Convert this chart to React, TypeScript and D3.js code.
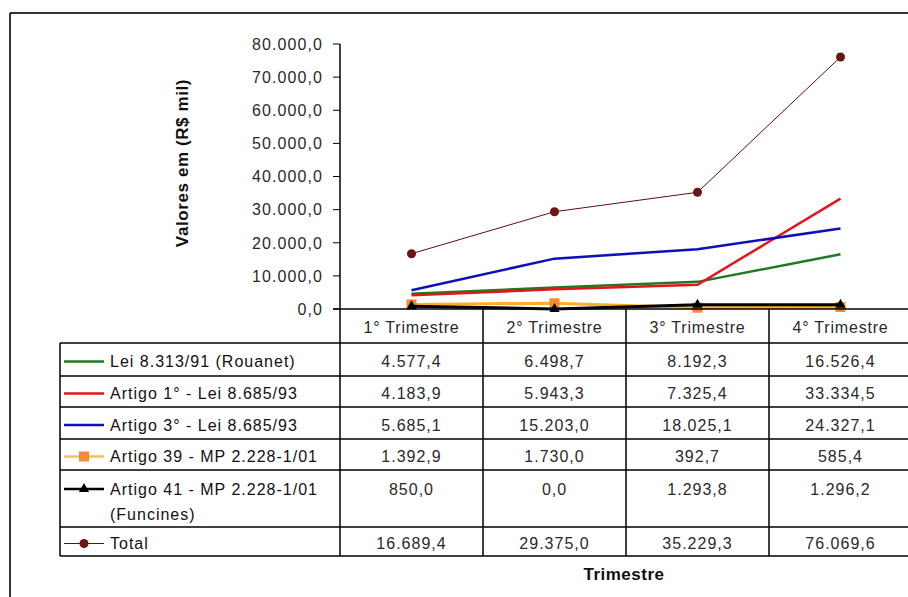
import * as d3 from "d3";

const categories = ["1° Trimestre", "2° Trimestre", "3° Trimestre", "4° Trimestre"];

const rouanet = [4577.4, 6498.7, 8192.3, 16526.4];
const artigo1 = [4183.9, 5943.3, 7325.4, 33334.5];
const artigo3 = [5685.1, 15203.0, 18025.1, 24327.1];
const artigo39 = [1392.9, 1730.0, 392.7, 585.4];
const artigo41 = [850.0, 0.0, 1293.8, 1296.2];
const total = [16689.4, 29375.0, 35229.3, 76069.6];

const yTicks = [0, 10000, 20000, 30000, 40000, 50000, 60000, 70000, 80000];

type Series = {
  label: string[];
  values: number[];
  color: string;
  width: number;
  marker: "none" | "square" | "triangle" | "circle";
  markerColor: string;
  legendColor: string;
};

const series: Series[] = [
  { label: ["Lei 8.313/91 (Rouanet)"], values: rouanet, color: "#1f7a22", width: 2.5, marker: "none", markerColor: "", legendColor: "#1f7a22" },
  { label: ["Artigo 1° - Lei 8.685/93"], values: artigo1, color: "#e5141c", width: 2.5, marker: "none", markerColor: "", legendColor: "#e5141c" },
  { label: ["Artigo 3° - Lei 8.685/93"], values: artigo3, color: "#1010b8", width: 2.5, marker: "none", markerColor: "", legendColor: "#1010b8" },
  { label: ["Artigo 39 - MP 2.228-1/01"], values: artigo39, color: "#ffad2a", width: 3, marker: "square", markerColor: "#f58a30", legendColor: "#f7c25a" },
  { label: ["Artigo 41 - MP 2.228-1/01", "(Funcines)"], values: artigo41, color: "#000000", width: 3, marker: "triangle", markerColor: "#000000", legendColor: "#000000" },
  { label: ["Total"], values: total, color: "#5a1010", width: 1, marker: "circle", markerColor: "#6a1414", legendColor: "#5a1010" },
];

// row boundaries of the data table (y)
const rowEdges = [343, 376, 407, 439, 470, 527, 556];

const fmt = (v: number) => {
  const s = d3.format(",.1f")(v);
  return s.replace(/,/g, "#").replace(".", ",").replace(/#/g, ".");
};

const font = "'Liberation Sans', Arial, sans-serif";
const textColor = "#2a2a2a";

function Marker({ type, x, y, color }: { type: string; x: number; y: number; color: string }) {
  if (type === "square") return <rect x={x - 5} y={y - 5} width={10} height={10} fill={color} />;
  if (type === "triangle") return <path d={d3.symbol(d3.symbolTriangle, 45)() || ""} transform={`translate(${x},${y})`} fill={color} />;
  if (type === "circle") return <circle cx={x} cy={y} r={4.5} fill={color} />;
  return null;
}

export default function App() {
  const W = 908;
  const H = 597;
  const axisX = 340;
  const x = d3.scaleBand<string>().domain(categories).range([axisX, axisX + 143 * 4]);
  const y = d3.scaleLinear().domain([0, 80000]).range([309, 44]);
  const cx = (c: string) => (x(c) || 0) + x.bandwidth() / 2;
  const line = d3
    .line<number>()
    .x((_, i) => cx(categories[i]))
    .y((d) => y(d));
  const tableLeft = 60;

  return (
    <svg width={W} height={H} style={{ position: "absolute", left: 0, top: 0, background: "#fff" }} fontFamily={font}>
      <rect width={W} height={H} fill="#fff" />
      {/* outer frame */}
      <line x1={10} y1={13} x2={W} y2={13} stroke="#333" strokeWidth={2} />
      <line x1={10} y1={13} x2={10} y2={H} stroke="#333" strokeWidth={2} />

      {/* y axis title */}
      <text
        transform="translate(188,163) rotate(-90)"
        textAnchor="middle"
        fontWeight="bold"
        fontSize={17}
        letterSpacing={0.6}
        fill="#111"
      >
        Valores em (R$ mil)
      </text>

      {/* y ticks */}
      {yTicks.map((t) => (
        <g key={t}>
          <line x1={axisX - 7} x2={axisX} y1={y(t)} y2={y(t)} stroke="#000" />
          <text x={323} y={y(t)} dy="0.36em" textAnchor="end" fontSize={16} letterSpacing={1.1} fill={textColor}>
            {fmt(t)}
          </text>
        </g>
      ))}

      {/* series lines */}
      {series.map((s, i) => (
        <g key={i}>
          <path d={line(s.values) || ""} fill="none" stroke={s.color} strokeWidth={s.width} />
          {s.marker !== "none" &&
            s.values.map((v, j) => <Marker key={j} type={s.marker} x={cx(categories[j])} y={y(v)} color={s.markerColor} />)}
        </g>
      ))}

      {/* axes and table grid */}
      <line x1={axisX - 7} x2={W} y1={y(0)} y2={y(0)} stroke="#000" strokeWidth={1.5} />
      <line x1={axisX} x2={axisX} y1={y(80000)} y2={rowEdges[rowEdges.length - 1]} stroke="#000" strokeWidth={1.5} />
      {categories.slice(1).map((c) => (
        <line key={c} x1={x(c)} x2={x(c)} y1={y(0)} y2={rowEdges[rowEdges.length - 1]} stroke="#000" strokeWidth={1.5} />
      ))}
      <line x1={tableLeft} x2={tableLeft} y1={rowEdges[0]} y2={rowEdges[rowEdges.length - 1]} stroke="#000" strokeWidth={1.5} />
      {rowEdges.map((r) => (
        <line key={r} x1={tableLeft} x2={W} y1={r} y2={r} stroke="#000" strokeWidth={1.5} />
      ))}

      {/* header */}
      {categories.map((c) => (
        <text key={c} x={cx(c)} y={327} dy="0.36em" textAnchor="middle" fontSize={16} letterSpacing={0.8} fill={textColor}>
          {c}
        </text>
      ))}

      {/* rows */}
      {series.map((s, i) => {
        const top = rowEdges[i];
        const rowY = s.label.length > 1 ? top + 19 : (top + rowEdges[i + 1]) / 2 + 2;
        return (
          <g key={i}>
            <line x1={64} x2={104} y1={rowY} y2={rowY} stroke={s.legendColor} strokeWidth={s.width === 1 ? 1 : 2.5} />
            {s.marker !== "none" && <Marker type={s.marker} x={84} y={rowY} color={s.markerColor} />}
            {s.label.map((l, k) => (
              <text key={k} x={110} y={rowY + k * 25} dy="0.36em" fontSize={16} letterSpacing={1} fill="#111">
                {l}
              </text>
            ))}
            {s.values.map((v, j) => (
              <text key={j} x={cx(categories[j])} y={rowY} dy="0.36em" textAnchor="middle" fontSize={16} letterSpacing={1} fill={textColor}>
                {fmt(v)}
              </text>
            ))}
          </g>
        );
      })}

      {/* x axis title */}
      <text x={624} y={574} dy="0.36em" textAnchor="middle" fontWeight="bold" fontSize={17} letterSpacing={0.5} fill="#111">
        Trimestre
      </text>
    </svg>
  );
}
